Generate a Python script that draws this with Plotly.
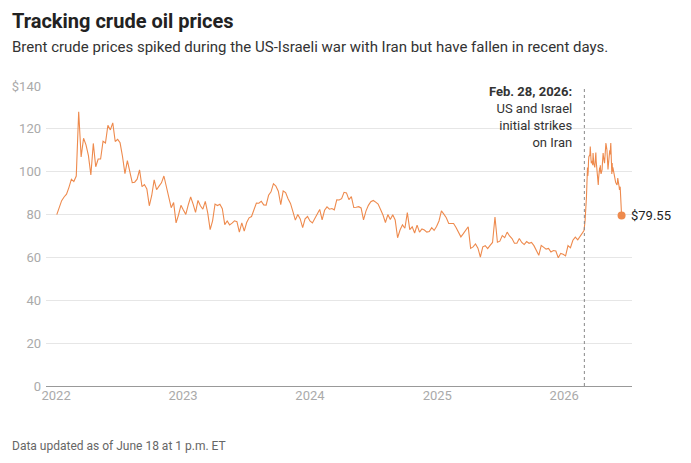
import pandas as pd
import plotly.graph_objects as go

# Weekly Brent closes (Mondays) by year
brent_2022 = [80.0, 83.7, 86.5, 88.2, 89.5, 92.7, 96.5, 95.4, 98.0, 128.0, 106.9, 115.6, 112.5,
              107.5, 98.5, 113.2, 102.3, 105.9, 105.9, 114.2, 113.4, 121.7, 119.5, 122.8, 114.1,
              115.1, 113.5, 107.1, 99.1, 105.2, 100.0, 94.9, 95.1, 96.5, 100.9, 93.0, 94.0, 92.0,
              84.1, 88.9, 96.2, 91.6, 93.3, 94.8, 98.0, 93.1, 87.5, 83.2, 85.6, 76.1, 79.8, 84.3]
brent_2023 = [82.1, 80.1, 84.5, 88.2, 84.9, 80.99, 86.6, 84.1, 82.5, 86.2, 80.8, 73.0, 77.1,
              84.9, 84.2, 84.8, 82.7, 75.3, 77.0, 75.2, 75.99, 77.1, 76.7, 71.8, 76.1, 72.3,
              76.3, 78.5, 79.1, 82.7, 85.4, 85.3, 86.2, 84.5, 84.4, 89.0, 90.6, 94.4, 93.3,
              90.9, 84.6, 91.0, 90.3, 87.4, 85.2, 81.4, 77.4, 80.0, 78.0, 73.9, 78.0, 79.1]
brent_2024 = [77.0, 76.1, 78.3, 80.1, 82.4, 77.5, 82.0, 83.6, 82.5, 82.8, 82.2, 86.9, 86.8,
              87.4, 90.4, 90.1, 87.0, 88.4, 83.3, 83.4, 83.7, 83.1, 77.5, 81.6, 84.3, 86.0,
              86.6, 85.8, 84.9, 82.4, 79.8, 76.3, 80.0, 77.7, 79.9, 77.5, 69.2, 72.8, 75.2,
              73.6, 80.9, 73.0, 74.3, 71.4, 75.1, 71.8, 73.3, 72.8, 71.8, 72.1, 73.9, 72.6, 74.4]
brent_2025 = [77.0, 81.7, 80.2, 78.5, 75.9, 75.9, 75.8, 74.0, 71.6, 69.6, 71.1, 73.0, 74.3,
              64.2, 64.9, 66.3, 64.3, 60.2, 64.96, 65.5, 64.1, 65.6, 67.0, 78.9, 67.1, 67.6,
              70.2, 69.2, 71.8, 70.0, 68.8, 66.6, 66.6, 68.8, 67.0, 66.0, 67.4, 66.6, 67.0,
              65.5, 63.3, 61.0, 65.6, 64.9, 63.9, 64.2, 62.5, 63.2, 63.0, 59.8, 61.9, 61.5]
brent_2026 = [60.7, 65.5, 64.5, 68.0, 69.5, 68.2, 70.0, 71.3]

year_starts = {2022: "2022-01-03", 2023: "2023-01-02", 2024: "2024-01-01",
               2025: "2025-01-06", 2026: "2026-01-05"}
yearly = {2022: brent_2022, 2023: brent_2023, 2024: brent_2024, 2025: brent_2025, 2026: brent_2026}

# Daily closes after the strikes
war_dates = ["2026-02-27", "2026-03-02", "2026-03-03", "2026-03-04", "2026-03-05", "2026-03-06",
             "2026-03-09", "2026-03-10", "2026-03-11", "2026-03-12", "2026-03-13", "2026-03-16",
             "2026-03-17", "2026-03-18", "2026-03-19", "2026-03-20", "2026-03-23", "2026-03-24",
             "2026-03-25", "2026-03-26", "2026-03-27", "2026-03-30", "2026-03-31", "2026-04-01",
             "2026-04-02", "2026-04-03", "2026-04-06", "2026-04-07", "2026-04-08", "2026-04-09",
             "2026-04-10", "2026-04-13", "2026-04-14", "2026-04-15", "2026-04-16", "2026-04-17",
             "2026-04-20", "2026-04-21", "2026-04-22", "2026-04-23", "2026-04-24", "2026-04-27",
             "2026-04-28", "2026-04-29", "2026-04-30", "2026-05-01", "2026-05-04", "2026-05-05",
             "2026-05-06", "2026-05-07", "2026-05-08", "2026-05-11", "2026-05-12", "2026-05-13",
             "2026-05-14", "2026-05-15", "2026-05-18", "2026-05-19", "2026-05-20", "2026-05-21",
             "2026-05-22", "2026-05-26", "2026-05-27", "2026-05-28", "2026-05-29", "2026-06-01",
             "2026-06-02", "2026-06-03", "2026-06-04", "2026-06-05", "2026-06-08", "2026-06-09",
             "2026-06-10", "2026-06-11", "2026-06-12", "2026-06-15"]
war_prices = [72.5, 77.0, 79.0, 82.0, 85.0, 88.0,
              102.0, 98.0, 100.0, 105.0, 107.0, 108.0,
              111.7, 109.0, 106.0, 104.0, 105.0, 103.0,
              108.7, 106.0, 104.0, 102.0, 104.0, 106.0,
              109.0, 105.0, 97.7, 96.0, 95.0, 93.8,
              97.0, 102.0, 100.0, 103.0, 100.0, 99.0,
              101.0, 104.0, 106.0, 108.7, 107.0, 104.0,
              106.0, 109.0, 111.0, 113.4, 110.0, 105.0,
              102.0, 101.0, 103.0, 107.0, 110.0, 108.0,
              111.0, 113.4, 99.0, 104.0, 100.0, 102.0,
              101.0, 99.0, 96.0, 97.0, 95.0, 94.0,
              93.8, 95.0, 97.0, 96.0, 93.0, 91.5,
              92.0, 93.0, 90.7, 79.55]

x_tick_labels = ["2022", "2023", "2024", "2025", "2026"]
y_tick_vals = [0, 20, 40, 60, 80, 100, 120, 140]
y_tick_text = ["0", "20", "40", "60", "80", "100", "120", "$140"]
strike_date = "2026-02-28"

dates, prices = [], []
for yr, vals in yearly.items():
    dates += list(pd.date_range(year_starts[yr], periods=len(vals), freq="7D"))
    prices += vals
dates += list(pd.to_datetime(war_dates))
prices += war_prices

ORANGE = "#ee8a4d"
FONT = "Roboto, Arial, sans-serif"
L, R, T, B = 44, 59, 86, 77
W, H = 691, 463

fig = go.Figure()
fig.add_trace(go.Scatter(x=dates, y=prices, mode="lines",
                         line=dict(color=ORANGE, width=1.1), hoverinfo="skip"))
fig.add_trace(go.Scatter(x=[dates[-1]], y=[prices[-1]], mode="markers",
                         marker=dict(color=ORANGE, size=8), hoverinfo="skip"))

fig.add_shape(type="line", xref="x", yref="paper", x0=strike_date, x1=strike_date,
              y0=0, y1=1, line=dict(color="#888", width=1, dash="3px,3px"))

fig.add_annotation(x=strike_date, y=1, xref="x", yref="paper", xanchor="right", yanchor="top",
                   xshift=-10, yshift=4, showarrow=False, align="right",
                   text="<b>Feb. 28, 2026:</b><br>US and Israel<br>initial strikes<br>on Iran",
                   font=dict(family=FONT, size=13, color="#333"))
fig.add_annotation(x=dates[-1], y=prices[-1], xref="x", yref="y", xanchor="left",
                   yanchor="middle", xshift=7, showarrow=False,
                   text=f"${prices[-1]:.2f}", font=dict(family=FONT, size=13, color="#222"))


def add_page_text(px, py, text, size, color, bold=False):
    pw, ph = W - L - R, H - T - B
    fig.add_annotation(x=(px - L) / pw, y=1 - (py - T) / ph, xref="paper", yref="paper",
                       xanchor="left", yanchor="middle", showarrow=False,
                       text=f"<b>{text}</b>" if bold else text,
                       font=dict(family=FONT, size=size, color=color))


add_page_text(8, 21, "Tracking crude oil prices", 20, "#222", bold=True)
add_page_text(8, 47, "Brent crude prices spiked during the US-Israeli war with Iran but have fallen in recent days.", 15, "#333")
add_page_text(8, 446, "Data updated as of June 18 at 1 p.m. ET", 12, "#666")

fig.update_layout(
    width=W, height=H,
    margin=dict(l=L, r=R, t=T, b=B),
    paper_bgcolor="white", plot_bgcolor="white",
    showlegend=False,
    font=dict(family=FONT, color="#333"),
    xaxis=dict(range=["2021-12-03", "2026-07-15"],
               tickvals=[f"{y}-01-01" for y in x_tick_labels], ticktext=x_tick_labels,
               showgrid=False, zeroline=False, showline=False, ticks="",
               tickfont=dict(family=FONT, size=13, color="#aaa")),
    yaxis=dict(range=[0, 140], tickvals=y_tick_vals, ticktext=y_tick_text,
               showgrid=True, gridcolor="#e6e6e6", gridwidth=1,
               zeroline=True, zerolinecolor="#999", zerolinewidth=1,
               showline=False, ticks="", ticklabelstandoff=4,
               tickfont=dict(family=FONT, size=13, color="#aaa")),
)

fig.write_html("out.html")
